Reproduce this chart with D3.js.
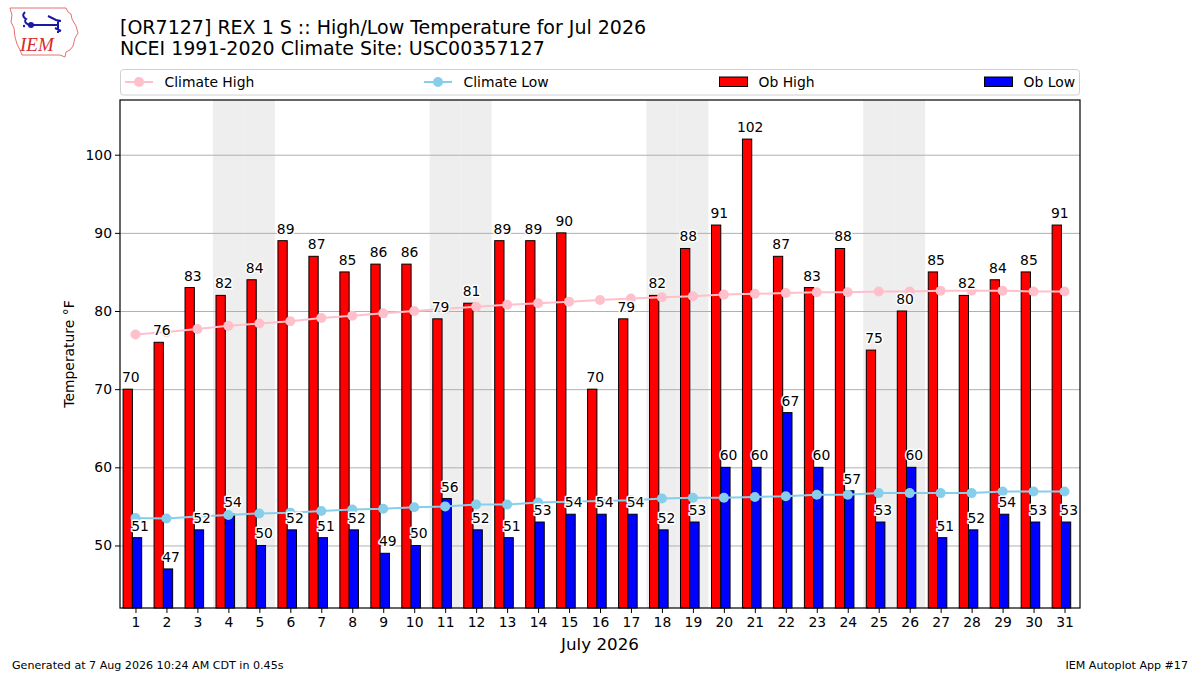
<!DOCTYPE html>
<html>
<head>
<meta charset="utf-8">
<script src="https://cdn.jsdelivr.net/npm/d3@7"></script>
<style>
	body { margin: 0; background: #fff; }
	svg { font-family: "DejaVu Sans", sans-serif; }
	.lbl { paint-order: stroke; stroke: #fff; stroke-width: 3px; stroke-linejoin: round; }
</style>
</head>
<body>
<div id="chart"></div>
<script>
///////////////////////////////////////////////////////////////////////////
//////////////////////////// data /////////////////////////////////////////
///////////////////////////////////////////////////////////////////////////

const days = d3.range(1, 32);
const obHigh = [70, 76, 83, 82, 84, 89, 87, 85, 86, 86, 79, 81, 89, 89, 90, 70,
	79, 82, 88, 91, 102, 87, 83, 88, 75, 80, 85, 82, 84, 85, 91];
const obLow = [51, 47, 52, 54, 50, 52, 51, 52, 49, 50, 56, 52, 51, 53, 54, 54,
	54, 52, 53, 60, 60, 67, 60, 57, 53, 60, 51, 52, 54, 53, 53];
const climHigh = [77.0, 77.3, 77.7, 78.1, 78.4, 78.7, 79.1, 79.4, 79.7, 80.0,
	80.3, 80.55, 80.8, 81.0, 81.2, 81.4, 81.6, 81.75, 81.9, 82.1, 82.2, 82.3,
	82.4, 82.4, 82.5, 82.5, 82.6, 82.6, 82.6, 82.5, 82.5];
const climLow = [53.5, 53.45, 53.7, 53.9, 54.1, 54.2, 54.4, 54.6, 54.7, 54.9,
	55.0, 55.25, 55.25, 55.5, 55.6, 55.7, 55.8, 56.0, 56.1, 56.1, 56.2, 56.3,
	56.5, 56.5, 56.7, 56.7, 56.7, 56.7, 56.9, 56.9, 56.9];
const yTicks = [50, 60, 70, 80, 90, 100];

const rows = days.map((d, i) => ({
	day: d,
	high: obHigh[i],
	low: obLow[i],
	chigh: climHigh[i],
	clow: climLow[i]
}));

///////////////////////////////////////////////////////////////////////////
//////////////////////////// Set up svg ///////////////////////////////////
///////////////////////////////////////////////////////////////////////////

const width = 1200;
const height = 675;
const margin = { top: 100, right: 120, bottom: 67, left: 120 };

const svg = d3
	.select("#chart")
	.append("svg")
	.attr("width", width)
	.attr("height", height);

const xScale = d3
	.scaleLinear()
	.domain([0.5, 31.5])
	.range([margin.left, width - margin.right]);

const yScale = d3
	.scaleLinear()
	.domain([42, 107])
	.range([height - margin.bottom, margin.top]);

const plotBottom = yScale.range()[0];

///////////////////////////////////////////////////////////////////////////
//////////////////////////// logo + titles ////////////////////////////////
///////////////////////////////////////////////////////////////////////////

const logo = svg.append("g");
logo.append("path")
	.attr("d", "M10,8 L66,8 L68,12 L71,14 L72,19 L76,26 L78,33 L75,38 L73,46 L70,50 L66,52 L65,57 L60,55 L22,55 L20,50 L17,44 L15,37 L14,28 L11,22 L12,15 Z")
	.attr("fill", "none")
	.attr("stroke", "#e87070")
	.attr("stroke-width", 1);
logo.append("path")
	.attr("d", "M25,12 Q21,16 26,19 Q23,22 29,25 M31,25 L58,25 M48,16 L56,20 L61,21 M58,21 L58,33 M55,28 L61,31")
	.attr("fill", "none")
	.attr("stroke", "#1a1aa0")
	.attr("stroke-width", 2);
logo.append("circle").attr("cx", 31).attr("cy", 25).attr("r", 3).attr("fill", "#1a1aa0");
logo.append("circle").attr("cx", 24).attr("cy", 26).attr("r", 1.2).attr("fill", "#1a1aa0");
logo.append("text")
	.attr("x", 20)
	.attr("y", 51)
	.attr("font-family", "Liberation Serif, serif")
	.attr("font-style", "italic")
	.attr("font-size", 19)
	.attr("fill", "#d42a2a")
	.text("IEM");

svg.append("text")
	.attr("x", 120)
	.attr("y", 33.5)
	.attr("font-size", 19)
	.text("[OR7127] REX 1 S :: High/Low Temperature for Jul 2026");
svg.append("text")
	.attr("x", 120)
	.attr("y", 55)
	.attr("font-size", 19)
	.text("NCEI 1991-2020 Climate Site: USC00357127");

///////////////////////////////////////////////////////////////////////////
//////////////////////////// background + grid ////////////////////////////
///////////////////////////////////////////////////////////////////////////

// weekend shading, july 2026
const weekend = days.filter((d) => {
	const wd = new Date(2026, 6, d).getDay();
	return wd === 0 || wd === 6;
});

svg.append("g")
	.selectAll("rect")
	.data(weekend)
	.join("rect")
	.attr("x", (d) => xScale(d - 0.5))
	.attr("width", (d) => xScale(d + 0.5) - xScale(d - 0.5))
	.attr("y", margin.top)
	.attr("height", plotBottom - margin.top)
	.attr("fill", "#eeeeee");

svg.append("g")
	.attr("class", "y-axis")
	.attr("transform", `translate(${margin.left},0)`)
	.call(d3.axisLeft(yScale).tickValues(yTicks).tickSize(-(width - margin.left - margin.right)).tickPadding(8))
	.call((g) => g.select(".domain").remove())
	.call((g) => g.selectAll(".tick line").attr("stroke", "#b0b0b0").attr("stroke-width", 1))
	.call((g) => g.selectAll(".tick text").attr("font-size", 13.9).attr("fill", "#000").attr("font-family", "DejaVu Sans"));

// small outward tick marks on y
svg.append("g")
	.attr("transform", `translate(${margin.left},0)`)
	.call(d3.axisLeft(yScale).tickValues(yTicks).tickSize(5).tickFormat(""))
	.call((g) => g.select(".domain").remove());

///////////////////////////////////////////////////////////////////////////
//////////////////////////// bars /////////////////////////////////////////
///////////////////////////////////////////////////////////////////////////

const barW = xScale(0.3) - xScale(0);

svg.append("g")
	.selectAll("rect")
	.data(rows)
	.join("rect")
	.attr("x", (d) => xScale(d.day - 0.4))
	.attr("width", barW)
	.attr("y", (d) => yScale(d.high))
	.attr("height", (d) => plotBottom - yScale(d.high))
	.attr("fill", "#ff0000")
	.attr("stroke", "#000")
	.attr("stroke-width", 1);

svg.append("g")
	.selectAll("rect")
	.data(rows)
	.join("rect")
	.attr("x", (d) => xScale(d.day - 0.1))
	.attr("width", barW)
	.attr("y", (d) => yScale(d.low))
	.attr("height", (d) => plotBottom - yScale(d.low))
	.attr("fill", "#0000ff")
	.attr("stroke", "#000")
	.attr("stroke-width", 1);

///////////////////////////////////////////////////////////////////////////
//////////////////////////// climate lines ////////////////////////////////
///////////////////////////////////////////////////////////////////////////

const climate = [
	{ key: "chigh", color: "#ffc0cb" },
	{ key: "clow", color: "#87ceeb" }
];

climate.forEach((c) => {
	const line = d3.line().x((d) => xScale(d.day)).y((d) => yScale(d[c.key]));
	svg.append("path")
		.datum(rows)
		.attr("d", line)
		.attr("fill", "none")
		.attr("stroke", c.color)
		.attr("stroke-width", 2);
	svg.append("g")
		.selectAll("circle")
		.data(rows)
		.join("circle")
		.attr("cx", (d) => xScale(d.day))
		.attr("cy", (d) => yScale(d[c.key]))
		.attr("r", 5)
		.attr("fill", c.color);
});

///////////////////////////////////////////////////////////////////////////
//////////////////////////// value labels /////////////////////////////////
///////////////////////////////////////////////////////////////////////////

const labels = svg.append("g").attr("font-size", 13.9).attr("text-anchor", "middle");

labels.selectAll(".hl")
	.data(rows)
	.join("text")
	.attr("class", "lbl hl")
	.attr("x", (d) => xScale(d.day - 0.15))
	.attr("y", (d) => yScale(d.high) - 7)
	.text((d) => d.high);

labels.selectAll(".ll")
	.data(rows)
	.join("text")
	.attr("class", "lbl ll")
	.attr("x", (d) => xScale(d.day + 0.15))
	.attr("y", (d) => yScale(d.low) - 7)
	.text((d) => d.low);

///////////////////////////////////////////////////////////////////////////
//////////////////////////// axes /////////////////////////////////////////
///////////////////////////////////////////////////////////////////////////

svg.append("g")
	.attr("class", "x-axis")
	.attr("transform", `translate(0,${plotBottom})`)
	.call(d3.axisBottom(xScale).tickValues(days).tickFormat(d3.format("d")).tickSize(5).tickPadding(4))
	.call((g) => g.select(".domain").remove())
	.call((g) => g.selectAll(".tick text").attr("font-size", 13.9).attr("fill", "#000").attr("font-family", "DejaVu Sans"));

// frame
svg.append("rect")
	.attr("x", margin.left)
	.attr("y", margin.top)
	.attr("width", width - margin.left - margin.right)
	.attr("height", plotBottom - margin.top)
	.attr("fill", "none")
	.attr("stroke", "#000")
	.attr("stroke-width", 1.2);

svg.append("text")
	.attr("x", (margin.left + width - margin.right) / 2)
	.attr("y", 650)
	.attr("text-anchor", "middle")
	.attr("font-size", 16.7)
	.text("July 2026");

svg.append("text")
	.attr("transform", `translate(74,${(margin.top + plotBottom) / 2}) rotate(-90)`)
	.attr("text-anchor", "middle")
	.attr("font-size", 13.9)
	.text("Temperature °F");

///////////////////////////////////////////////////////////////////////////
//////////////////////////// legend ///////////////////////////////////////
///////////////////////////////////////////////////////////////////////////

svg.append("rect")
	.attr("x", 120.5)
	.attr("y", 69.5)
	.attr("width", 959)
	.attr("height", 25.5)
	.attr("rx", 3)
	.attr("fill", "#fff")
	.attr("stroke", "#d0d0d0");

const legendItems = [
	{ name: "Climate High", type: "line", color: "#ffc0cb", x: 125 },
	{ name: "Climate Low", type: "line", color: "#87ceeb", x: 424 },
	{ name: "Ob High", type: "patch", color: "#ff0000", x: 719 },
	{ name: "Ob Low", type: "patch", color: "#0000ff", x: 984 }
];

const legend = svg.selectAll(".legend")
	.data(legendItems)
	.join("g")
	.attr("class", "legend")
	.attr("transform", (d) => `translate(${d.x},82)`);

legend.filter((d) => d.type === "line")
	.call((g) => g.append("line").attr("x1", 0).attr("x2", 28).attr("stroke", (d) => d.color).attr("stroke-width", 2))
	.call((g) => g.append("circle").attr("cx", 14).attr("r", 5).attr("fill", (d) => d.color));

legend.filter((d) => d.type === "patch")
	.append("rect")
	.attr("x", 0.5)
	.attr("y", -5)
	.attr("width", 28)
	.attr("height", 9.5)
	.attr("fill", (d) => d.color)
	.attr("stroke", "#000")
	.attr("stroke-width", 1);

legend.append("text")
	.attr("x", 39.5)
	.attr("dy", "0.35em")
	.attr("font-size", 13.9)
	.text((d) => d.name);

///////////////////////////////////////////////////////////////////////////
//////////////////////////// footer ///////////////////////////////////////
///////////////////////////////////////////////////////////////////////////

svg.append("text")
	.attr("x", 12)
	.attr("y", 669)
	.attr("font-size", 11.1)
	.text("Generated at 7 Aug 2026 10:24 AM CDT in 0.45s");

svg.append("text")
	.attr("x", 1188)
	.attr("y", 669)
	.attr("text-anchor", "end")
	.attr("font-size", 11.1)
	.text("IEM Autoplot App #17");
</script>
</body>
</html>
